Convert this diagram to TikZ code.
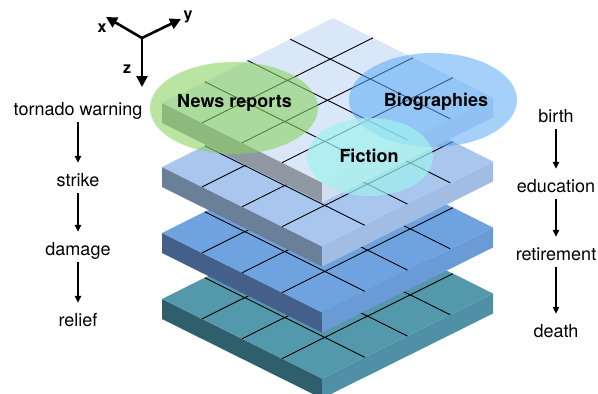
\documentclass[tikz,border=0pt]{standalone}
\usepackage{fontspec}
\setmainfont{TeX Gyre Heros}
\usetikzlibrary{calc,arrows.meta}

% slab colours: top face, left face, right face
\definecolor{slabAtop}{HTML}{DAE7F9}
\definecolor{slabAleft}{HTML}{8E97A2}
\definecolor{slabAright}{HTML}{D3DFF0}
\definecolor{slabBtop}{HTML}{A9C6EE}
\definecolor{slabBleft}{HTML}{6A8099}
\definecolor{slabBright}{HTML}{A1BDE3}
\definecolor{slabCtop}{HTML}{6FA3E0}
\definecolor{slabCleft}{HTML}{44608A}
\definecolor{slabCright}{HTML}{6A9BD6}
\definecolor{slabDtop}{HTML}{5499AB}
\definecolor{slabDleft}{HTML}{2F5E6C}
\definecolor{slabDright}{HTML}{4F90A6}
% translucent topic blobs
\definecolor{newsgreen}{RGB}{140,210,100}
\definecolor{biosblue}{RGB}{90,170,245}
\definecolor{fictioncyan}{RGB}{160,242,238}

\tikzset{
  gridline/.style={black, line width=0.9pt},
  blobtext/.style={font=\fontsize{18}{20}\selectfont\bfseries, inner sep=0pt, anchor=base},
  steplabel/.style={font=\fontsize{18}{20}\selectfont, inner sep=0pt,
    text height=13pt, text depth=4pt, anchor=base},
  chainarrow/.style={line width=1.1pt, -{Triangle[length=7pt,width=6.5pt]},
    shorten <=3pt, shorten >=10pt},
  axisarrow/.style={line width=2.6pt, -{Triangle[length=11pt,width=11pt]}},
  axislabel/.style={font=\fontsize{16}{18}\selectfont\bfseries, inner sep=0pt},
}

% one isometric slab with a 4x4 grid on its top face;
% #1 = y of the left corner, #2/#3/#4 = top/left/right face colours
\newcommand\layerslab[4]{%
  \coordinate (L) at (162,#1);
  \coordinate (F) at ($(L)+(160,79.5)$);
  \coordinate (R) at ($(F)+(171,-85)$);
  \coordinate (B) at ($(L)+(171,-85)$);
  \fill[#3] (L) -- (F) -- ($(F)+(0,20)$) -- ($(L)+(0,20)$) -- cycle;
  \fill[#4] (F) -- (R) -- ($(R)+(0,20)$) -- ($(F)+(0,20)$) -- cycle;
  \fill[#2] (L) -- (F) -- (R) -- (B) -- cycle;
  \foreach \t in {0.25,0.5,0.75}{
    \draw[gridline] ($(F)!\t!(L)$) -- ($(R)!\t!(B)$);
    \draw[gridline] ($(F)!\t!(R)$) -- ($(L)!\t!(B)$);
  }%
}

\begin{document}
\begin{tikzpicture}[x=1pt,y=-1pt]
\useasboundingbox (0,0) rectangle (598,394);

% stacked slabs, bottom first
\layerslab{299}{slabDtop}{slabDleft}{slabDright}
\layerslab{233}{slabCtop}{slabCleft}{slabCright}
\layerslab{167}{slabBtop}{slabBleft}{slabBright}
\layerslab{103}{slabAtop}{slabAleft}{slabAright}

% topic blobs
\fill[newsgreen, fill opacity=0.6] (234,108) ellipse [x radius=84pt, y radius=46pt];
\fill[biosblue, fill opacity=0.55] (433,100) ellipse [x radius=84pt, y radius=47pt];
\fill[fictioncyan, fill opacity=0.7] (370,157) ellipse [x radius=63pt, y radius=39pt];

\node[blobtext] (news) at (234.5,107) {News reports};
\node[blobtext] (bios) at (436,106) {Biographies};
\node[blobtext] (fict) at (369,162) {Fiction};

% axes
\coordinate (o) at (142,38);
\coordinate (ax) at (106,17);
\coordinate (ay) at (181,19);
\coordinate (az) at (142,87);
\draw[axisarrow] (o) -- (ax);
\draw[axisarrow] (o) -- (ay);
\draw[axisarrow] (o) -- (az);
\node[axislabel] (xl) at (102,28) {x};
\node[axislabel] (yl) at (188,17) {y};
\node[axislabel] (zl) at (127,69) {z};

% tornado sequence
\node[steplabel] (tw) at (78,115) {tornado warning};
\node[steplabel] (st) at (78,186) {strike};
\node[steplabel] (dm) at (78,255) {damage};
\node[steplabel] (rl) at (78,326) {relief};
\draw[chainarrow] (tw.south) -- (st.north);
\draw[chainarrow] (st.south) -- (dm.north);
\draw[chainarrow] (dm.south) -- (rl.north);

% life sequence
\node[steplabel] (bi) at (556,122) {birth};
\node[steplabel] (ed) at (556,192) {education};
\node[steplabel] (re) at (556,260) {retirement};
\node[steplabel] (de) at (556,337) {death};
\draw[chainarrow] (bi.south) -- (ed.north);
\draw[chainarrow] (ed.south) -- (re.north);
\draw[chainarrow] (re.south) -- (de.north);
\end{tikzpicture}
\end{document}
